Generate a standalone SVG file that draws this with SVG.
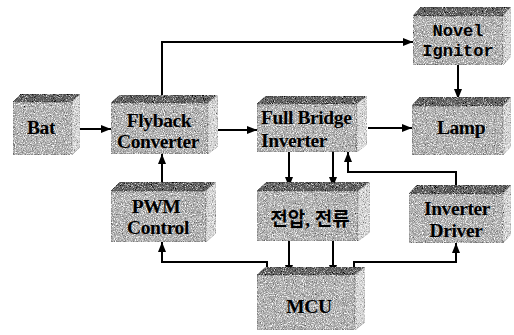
<svg xmlns="http://www.w3.org/2000/svg" width="514" height="335" viewBox="0 0 514 335">
  <style>
    .front { fill: #a9a9a9; stroke: #666; stroke-width: 0.8; filter: url(#grain); }
    .top { fill: #6a6a6a; stroke: #444; stroke-width: 0.8; filter: url(#grainDark); }
    .side { fill: #d6d6d6; stroke: #999; stroke-width: 0.6; filter: url(#grain); }
    .lbl { font-family: "Liberation Serif", "Times New Roman", serif; font-weight: bold; font-size: 19.5px; fill: #000; text-anchor: middle; letter-spacing: -0.4px; }
    .mono { font-family: "Liberation Mono", "Courier New", monospace; font-weight: bold; font-size: 17px; fill: #000; text-anchor: middle; }
    .kr { font-family: "Liberation Serif", "Noto Sans CJK KR", sans-serif; font-weight: bold; font-size: 19px; fill: #000; text-anchor: middle; }
    .wire { fill: none; stroke: #000; stroke-width: 2; }
  </style>
  <defs>
    <!-- speckled stone-like texture for the box faces -->
    <filter id="grain" x="0" y="0" width="1" height="1">
      <feTurbulence type="fractalNoise" baseFrequency="0.9" numOctaves="2" seed="4" result="n"/>
      <feColorMatrix in="n" type="matrix" values="0 0 0 0 0  0 0 0 0 0  0 0 0 0 0  2.4 0 0 0 -1.2" result="dark"/>
      <feColorMatrix in="n" type="matrix" values="0 0 0 0 1  0 0 0 0 1  0 0 0 0 1  0 -3.2 0 0 1.75" result="light"/>
      <feComposite in="dark" in2="SourceGraphic" operator="in" result="darkIn"/>
      <feComposite in="light" in2="SourceGraphic" operator="in" result="lightIn"/>
      <feMerge>
        <feMergeNode in="SourceGraphic"/>
        <feMergeNode in="lightIn"/>
        <feMergeNode in="darkIn"/>
      </feMerge>
    </filter>
    <filter id="grainDark" x="0" y="0" width="1" height="1">
      <feTurbulence type="fractalNoise" baseFrequency="1.1" numOctaves="2" seed="9" result="n"/>
      <feColorMatrix in="n" type="matrix" values="0 0 0 0 0  0 0 0 0 0  0 0 0 0 0  3 0 0 0 -1.3" result="dark"/>
      <feColorMatrix in="n" type="matrix" values="0 0 0 0 1  0 0 0 0 1  0 0 0 0 1  0 -3 0 0 1.4" result="light"/>
      <feComposite in="dark" in2="SourceGraphic" operator="in" result="darkIn"/>
      <feComposite in="light" in2="SourceGraphic" operator="in" result="lightIn"/>
      <feMerge>
        <feMergeNode in="SourceGraphic"/>
        <feMergeNode in="lightIn"/>
        <feMergeNode in="darkIn"/>
      </feMerge>
    </filter>
    <marker id="arrow" viewBox="0 0 10 8" refX="10" refY="4" markerWidth="10" markerHeight="8" markerUnits="userSpaceOnUse" orient="auto">
      <path d="M0,0 L10,4 L0,8 z" fill="#000"/>
    </marker>
  </defs>

  <!-- connectors -->
  <g id="connectors">
    <path class="wire" d="M75,129 H111" marker-end="url(#arrow)"/>
    <path class="wire" d="M162,95 V42 H413" marker-end="url(#arrow)"/>
    <path class="wire" d="M218,130 H257" marker-end="url(#arrow)"/>
    <path class="wire" d="M368,128 H412" marker-end="url(#arrow)"/>
    <path class="wire" d="M458,65 V99" marker-end="url(#arrow)"/>
    <path class="wire" d="M162,183 V154" marker-end="url(#arrow)"/>
    <path class="wire" d="M267,272 V262 H162 V242" marker-end="url(#arrow)"/>
    <path class="wire" d="M289,152 V187" marker-end="url(#arrow)"/>
    <path class="wire" d="M333,152 V187" marker-end="url(#arrow)"/>
    <path class="wire" d="M289,241 V275" marker-end="url(#arrow)"/>
    <path class="wire" d="M333,241 V275" marker-end="url(#arrow)"/>
    <path class="wire" d="M456,186 V172 H348 V152" marker-end="url(#arrow)"/>
    <path class="wire" d="M354,272 V262 H456 V243" marker-end="url(#arrow)"/>
  </g>

  <!-- Bat -->
  <g id="bat">
    <polygon class="top" points="13,102 21,94 80,94 72,102"/>
    <polygon class="side" points="72,102 80,94 80,147 72,155"/>
    <rect class="front" x="13" y="102" width="59" height="53"/>
    <text class="lbl" x="41" y="134">Bat</text>
  </g>

  <!-- Flyback Converter -->
  <g id="flyback">
    <polygon class="top" points="111,103 120,95 218,95 208,103"/>
    <polygon class="side" points="208,103 218,95 218,146 208,154"/>
    <rect class="front" x="111" y="103" width="97" height="51"/>
    <text class="lbl" x="159" y="127">Flyback</text>
    <text class="lbl" x="158" y="148">Converter</text>
  </g>

  <!-- Full Bridge Inverter -->
  <g id="fullbridge">
    <polygon class="top" points="257,104 266,96 367,96 357,104"/>
    <polygon class="side" points="357,104 367,96 367,144 357,152"/>
    <rect class="front" x="257" y="104" width="100" height="48"/>
    <text class="lbl" x="261" y="124" style="text-anchor:start">Full Bridge</text>
    <text class="lbl" x="261" y="147" style="text-anchor:start">Inverter</text>
  </g>

  <!-- Novel Ignitor -->
  <g id="ignitor">
    <polygon class="top" points="413,16 421,7 511,7 503,16"/>
    <polygon class="side" points="503,16 511,7 511,56 503,65"/>
    <rect class="front" x="413" y="16" width="90" height="49"/>
    <text class="mono" x="458" y="36">Novel</text>
    <text class="mono" x="458" y="56">Ignitor</text>
  </g>

  <!-- Lamp -->
  <g id="lamp">
    <polygon class="top" points="412,106 420,97 511,97 503,106"/>
    <polygon class="side" points="503,106 511,97 511,146 503,155"/>
    <rect class="front" x="412" y="106" width="91" height="49"/>
    <text class="lbl" x="461" y="134">Lamp</text>
  </g>

  <!-- PWM Control -->
  <g id="pwm">
    <polygon class="top" points="111,191 120,182 216,182 206,191"/>
    <polygon class="side" points="206,191 216,182 216,233 206,242"/>
    <rect class="front" x="111" y="191" width="95" height="51"/>
    <text class="lbl" x="156" y="213">PWM</text>
    <text class="lbl" x="158" y="234">Control</text>
  </g>

  <!-- Voltage / current sensing -->
  <g id="sense">
    <polygon class="top" points="257,191 267,182 370,182 358,191"/>
    <polygon class="side" points="358,191 370,182 370,232 358,241"/>
    <rect class="front" x="257" y="191" width="101" height="50"/>
    <text class="kr" x="310" y="226">전압, 전류</text>
  </g>

  <!-- Inverter Driver -->
  <g id="driver">
    <polygon class="top" points="409,194 417,185 511,185 503,194"/>
    <polygon class="side" points="503,194 511,185 511,234 503,243"/>
    <rect class="front" x="409" y="194" width="94" height="49"/>
    <text class="lbl" x="457" y="215">Inverter</text>
    <text class="lbl" x="456" y="237">Driver</text>
  </g>

  <!-- MCU -->
  <g id="mcu">
    <polygon class="top" points="257,275 266,267 365,267 355,275"/>
    <polygon class="side" points="355,275 365,267 365,322 355,330"/>
    <rect class="front" x="257" y="275" width="98" height="55"/>
    <text class="lbl" x="309" y="313">MCU</text>
  </g>
</svg>
